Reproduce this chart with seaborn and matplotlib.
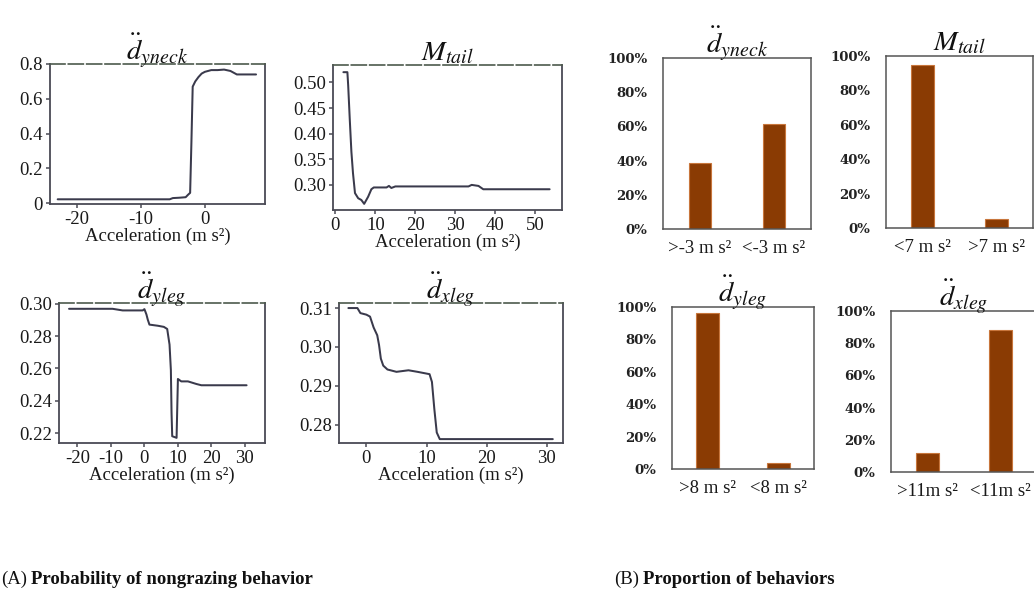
import matplotlib
matplotlib.use("Agg")
import matplotlib.pyplot as plt
import seaborn as sns
from matplotlib.ticker import FixedLocator, FixedFormatter

# ---- partial dependence curves (probability of nongrazing vs acceleration) ----
yneck_acc = [-23, -5.5, -5, -4, -3, -2.6, -2.3, -2.1, -1.9, -1.5, -1, -0.5, 0, 1, 2, 3, 4, 5, 8]
yneck_prob = [0.023, 0.023, 0.03, 0.032, 0.035, 0.05, 0.06, 0.35, 0.67, 0.70, 0.725, 0.745, 0.755,
              0.765, 0.765, 0.768, 0.76, 0.74, 0.74]

tail_acc = [2, 3, 3.2, 3.6, 4.0, 4.4, 4.9, 5.7, 6.5, 7.2, 8.2, 9.0, 9.6, 12.8, 13.4, 14, 15, 33.3,
            34.1, 35.8, 37, 53.6]
tail_prob = [0.52, 0.52, 0.494, 0.427, 0.365, 0.323, 0.284, 0.274, 0.2705, 0.263, 0.277, 0.2915,
             0.295, 0.295, 0.298, 0.294, 0.297, 0.297, 0.30, 0.298, 0.2915, 0.2915]

yleg_acc = [-22.5, -9.5, -8, -6.5, -0.5, 0, 0.6, 1.0, 1.5, 4, 5.8, 6.8, 7.5, 7.9, 8.1, 8.3, 9.6,
            10.0, 11, 13, 15.5, 17, 30.5]
yleg_prob = [0.297, 0.297, 0.2965, 0.296, 0.296, 0.2968, 0.2935, 0.2903, 0.2872, 0.2865, 0.2858,
             0.2845, 0.2748, 0.259, 0.2324, 0.218, 0.217, 0.2535, 0.252, 0.252, 0.2504, 0.2496, 0.2496]

xleg_acc = [-3, -1.5, -1, 0, 0.6, 1.2, 1.8, 2.1, 2.4, 2.8, 3.5, 5, 7, 8.5, 10.5, 10.9, 11.1, 11.3,
            11.7, 12.2, 31]
xleg_prob = [0.310, 0.310, 0.3087, 0.3083, 0.3078, 0.305, 0.303, 0.3005, 0.297, 0.2952, 0.2942,
             0.2936, 0.294, 0.2936, 0.293, 0.291, 0.2875, 0.284, 0.278, 0.2763, 0.2763]

# ---- proportion of behaviours on each side of the threshold ----
yneck_groups = [">-3 m s²", "<-3 m s²"]
yneck_share = [38.5, 61.5]
tail_groups = ["<7 m s²", ">7 m s²"]
tail_share = [95, 5]
yleg_groups = [">8 m s²", "<8 m s²"]
yleg_share = [96, 4]
xleg_groups = [">11m s²", "<11m s²"]
xleg_share = [11.5, 88.5]

titles = [r"$\ddot{d}_{yneck}$", r"$M_{tail}$", r"$\ddot{d}_{yleg}$", r"$\ddot{d}_{xleg}$"]
xlabel = "Acceleration (m s²)"

sns.set_theme(style="white")
plt.rcParams["font.family"] = ["Liberation Serif", "DejaVu Serif"]
plt.rcParams["mathtext.fontset"] = "stix"
plt.rcParams["axes.unicode_minus"] = False

W, H = 1034, 592
fig = plt.figure(figsize=(W / 100, H / 100), dpi=100)
fig.patch.set_facecolor("white")


def box(l, t, r, b):
    return [l / W, 1 - b / H, (r - l) / W, (b - t) / H]


LINE = "#3a3a4c"
SPINE = "#4a4a55"
BAR = "#8a3b03"


def line_panel(rect, xs, ys, title, xlim, ylim, xt, yt, ylabels):
    ax = fig.add_axes(box(*rect))
    sns.lineplot(x=xs, y=ys, ax=ax, color=LINE, linewidth=1.45, estimator=None, sort=False)
    ax.set_xlim(*xlim)
    ax.set_ylim(*ylim)
    ax.xaxis.set_major_locator(FixedLocator(xt))
    ax.xaxis.set_major_formatter(FixedFormatter([str(v) for v in xt]))
    ax.yaxis.set_major_locator(FixedLocator(yt))
    ax.yaxis.set_major_formatter(FixedFormatter(ylabels))
    for s in ["left", "bottom", "right"]:
        ax.spines[s].set_color(SPINE)
        ax.spines[s].set_linewidth(1.3)
    ax.spines["top"].set_color("#4d5a4d")
    ax.spines["top"].set_linewidth(1.2)
    ax.spines["top"].set_linestyle((0, (9, 2)))
    ax.tick_params(axis="both", which="major", direction="out", length=3, width=1.1,
                   color=SPINE, labelsize=13.5, labelcolor="#1a1a1a", pad=2,
                   left=True, bottom=True)
    ax.set_xlabel(xlabel, fontsize=13.5, color="#1a1a1a", labelpad=-0.5)
    ax.set_ylabel("")
    ax.set_title(title, fontsize=20.5, pad=3, color="#111111")
    return ax


line_panel((50, 64, 265, 204), yneck_acc, yneck_prob, titles[0], (-24.2, 9.4), (-0.004, 0.8),
           [-20, -10, 0], [0, 0.2, 0.4, 0.6, 0.8], ["0", "0.2", "0.4", "0.6", "0.8"])
line_panel((333, 65, 562, 210), tail_acc, tail_prob, titles[1], (-0.6, 56.7), (0.251, 0.534),
           [0, 10, 20, 30, 40, 50], [0.30, 0.35, 0.40, 0.45, 0.50],
           ["0.30", "0.35", "0.40", "0.45", "0.50"])
line_panel((59, 303, 265, 443), yleg_acc, yleg_prob, titles[2], (-25.5, 36), (0.2138, 0.3006),
           [-20, -10, 0, 10, 20, 30], [0.22, 0.24, 0.26, 0.28, 0.30],
           ["0.22", "0.24", "0.26", "0.28", "0.30"])
line_panel((339, 303, 563, 443), xleg_acc, xleg_prob, titles[3], (-4.56, 32.7), (0.2753, 0.3113),
           [0, 10, 20, 30], [0.28, 0.29, 0.30, 0.31], ["0.28", "0.29", "0.30", "0.31"])


def bar_panel(rect, groups, share, title):
    ax = fig.add_axes(box(*rect))
    sns.barplot(x=groups, y=share, ax=ax, color=BAR, saturation=1, width=0.31,
                edgecolor="#c8763c", linewidth=0.8)
    ax.set_xlim(-0.5, 1.5)
    ax.set_ylim(0, 100)
    ax.yaxis.set_major_locator(FixedLocator([0, 20, 40, 60, 80, 100]))
    ax.yaxis.set_major_formatter(FixedFormatter([f"{v}%" for v in range(0, 101, 20)]))
    for s in ax.spines.values():
        s.set_visible(True)
        s.set_color("#555555")
        s.set_linewidth(1.1)
    ax.tick_params(axis="y", length=0, pad=11, labelsize=9.5, labelcolor="#222222")
    ax.tick_params(axis="x", length=0, pad=8, labelsize=13.5, labelcolor="#1a1a1a")
    for lab in ax.get_yticklabels():
        lab.set_fontfamily("DejaVu Serif")
        lab.set_fontweight("bold")
    ax.set_xlabel("")
    ax.set_ylabel("")
    ax.set_title(title, fontsize=20.5, pad=4, color="#111111")
    return ax


bar_panel((663, 58, 811, 229), yneck_groups, yneck_share, titles[0])
bar_panel((886, 56, 1033, 228), tail_groups, tail_share, titles[1])
bar_panel((672, 307, 814, 469), yleg_groups, yleg_share, titles[2])
bar_panel((891, 311, 1037, 472), xleg_groups, xleg_share, titles[3])

# panel captions: regular label followed by bold description
cap_y = 1 - 584 / H
fig.canvas.draw()
renderer = fig.canvas.get_renderer()
for x0, tag, text in [(1, "(A)", "Probability of nongrazing behavior"),
                      (614, "(B)", "Proportion of behaviors")]:
    t = fig.text(x0 / W, cap_y, tag, fontsize=13.5, va="baseline", ha="left", color="#111111")
    ext = t.get_window_extent(renderer)
    fig.text((ext.x1 + 4) / W, cap_y, text, fontsize=13.5, fontweight="bold",
             va="baseline", ha="left", color="#111111")

fig.savefig("out.png", dpi=100, facecolor="white")
